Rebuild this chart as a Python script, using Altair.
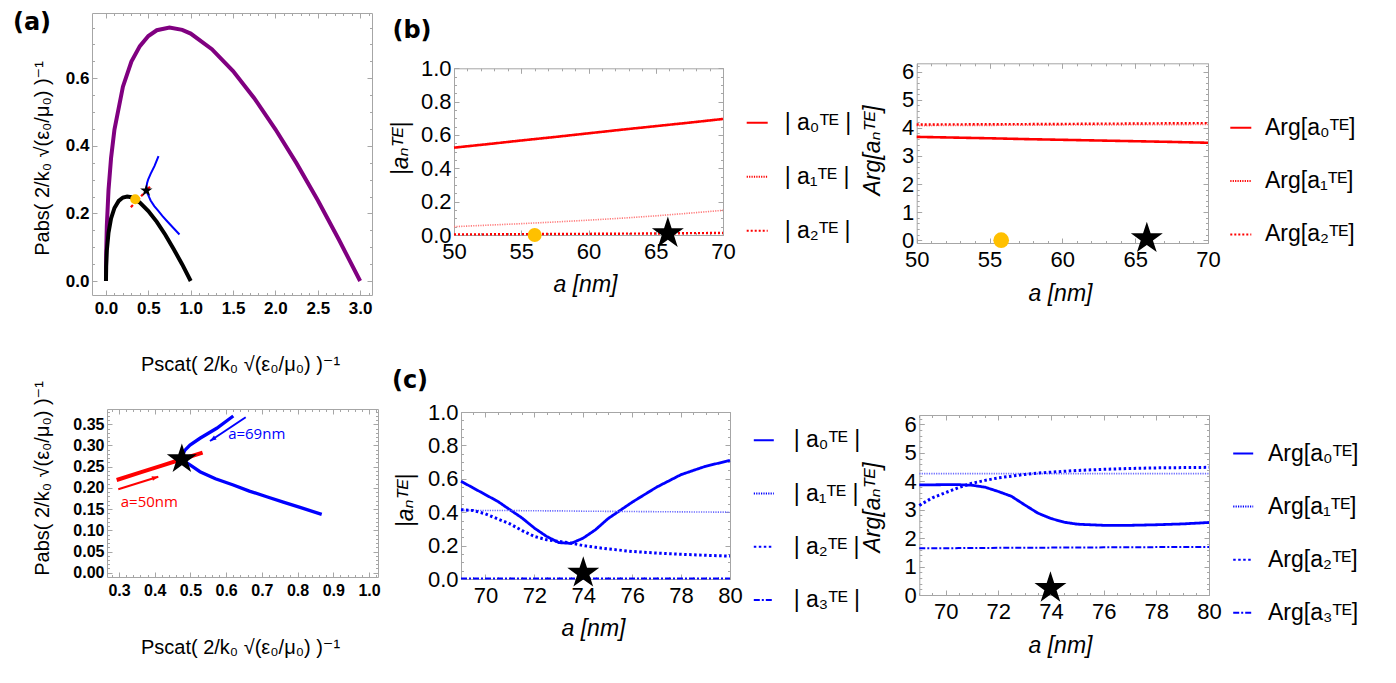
import altair as alt
import pandas as pd

W, H = 1380, 667
FRAME = "#a6a6a6"
SANS = "Liberation Sans, DejaVu Sans, sans-serif"
STAR = ("M0,-1L0.2245,-0.309L0.951,-0.309L0.363,0.118L0.588,0.809L0,0.382"
        "L-0.588,0.809L-0.363,0.118L-0.951,-0.309L-0.2245,-0.309Z")
HEAD = "M0,0L-2,-0.75L-2,0.75Z"

# ---------------- panel (a): P_abs vs P_scat ----------------
black_ps = [0.0, 0.002, 0.01, 0.03, 0.06, 0.1, 0.15, 0.2, 0.25, 0.3, 0.4, 0.5, 0.6, 0.7, 0.8, 0.9, 1.0]
black_pa = [0.0, 0.043, 0.09, 0.143, 0.185, 0.216, 0.237, 0.247, 0.25, 0.248, 0.232, 0.207, 0.175, 0.137, 0.094, 0.049, 0.0]
purple_ps = [0.0, 0.002, 0.01, 0.03, 0.06, 0.1, 0.2, 0.3, 0.4, 0.5, 0.6, 0.75, 0.9, 1.0, 1.25, 1.5, 1.75, 2.0, 2.25, 2.5, 2.75, 3.0]
purple_pa = [0.0, 0.076, 0.163, 0.27, 0.364, 0.448, 0.575, 0.649, 0.695, 0.725, 0.742, 0.75, 0.743, 0.732, 0.686, 0.621, 0.541, 0.449, 0.348, 0.239, 0.122, 0.0]
blue_ps = [0.62, 0.5736, 0.5268, 0.4988, 0.4848, 0.479, 0.478, 0.484, 0.4988, 0.5268, 0.57, 0.62, 0.665, 0.7136, 0.76, 0.8069, 0.8676]
blue_pa = [0.3696, 0.3406, 0.317, 0.301, 0.289, 0.279, 0.27, 0.262, 0.254, 0.2382, 0.2215, 0.2068, 0.1925, 0.179, 0.1665, 0.154, 0.1377]
red_ps = [0.2935, 0.36, 0.42, 0.4756, 0.534]
red_pa = [0.2186, 0.2364, 0.2525, 0.2675, 0.283]
yellow_ps = [0.345]
yellow_pa = [0.242]
star_ps = [0.476]
star_pa = [0.2675]
arrow_red_from = [0.298, 0.1967]
arrow_red_to = [0.41, 0.2264]
arrow_blue_from = [0.6548, 0.3665]
arrow_blue_to = [0.5548, 0.3106]
note_text = ["a=50nm", "a=69nm"]
note_ps = [0.385, 0.6856]
note_pa = [0.1675, 0.3264]

# ---------------- panel (b): a = 50..70 nm ----------------
b_a = [50, 52.5, 55, 57.5, 60, 62.5, 65, 67.5, 70]
b_abs0 = [0.524, 0.545, 0.567, 0.588, 0.61, 0.632, 0.653, 0.674, 0.696]
b_abs1 = [0.05, 0.059, 0.068, 0.078, 0.089, 0.101, 0.115, 0.131, 0.148]
b_abs2 = [0.004, 0.004, 0.005, 0.006, 0.007, 0.008, 0.009, 0.011, 0.012]
b_arg0 = [3.68, 3.655, 3.63, 3.6, 3.575, 3.55, 3.525, 3.5, 3.47]
b_arg1 = [4.08, 4.085, 4.09, 4.095, 4.1, 4.105, 4.11, 4.115, 4.12]
b_arg2 = [4.12, 4.125, 4.13, 4.135, 4.14, 4.15, 4.155, 4.165, 4.17]
b_yellow_a = [56.0]
b_yellow_v = [0.0]
b_star_a = [65.9]
b_star_v = [0.01]
b2_yellow_a = [55.8]
b2_yellow_v = [0.0]
b2_star_a = [65.8]
b2_star_v = [0.06]

# ---------------- panel (c): a = 69..80 nm ----------------
c_a = [69, 69.5, 70, 70.5, 71, 71.5, 72, 72.5, 73, 73.5, 74, 74.5, 75, 76, 77, 78, 79, 80]
c_abs0 = [0.585, 0.545, 0.505, 0.465, 0.415, 0.365, 0.305, 0.255, 0.218, 0.213, 0.245, 0.295, 0.36, 0.46, 0.55, 0.625, 0.675, 0.71]
c_abs1 = [0.411, 0.411, 0.41, 0.41, 0.41, 0.409, 0.409, 0.408, 0.408, 0.407, 0.406, 0.406, 0.405, 0.404, 0.403, 0.402, 0.401, 0.4]
c_abs2 = [0.415, 0.41, 0.39, 0.36, 0.33, 0.29, 0.255, 0.235, 0.225, 0.215, 0.2, 0.19, 0.18, 0.165, 0.155, 0.148, 0.142, 0.137]
c_abs3 = [0.003] * 18
c_arg0 = [3.87, 3.875, 3.88, 3.88, 3.86, 3.79, 3.64, 3.47, 3.17, 2.88, 2.69, 2.56, 2.49, 2.45, 2.45, 2.47, 2.5, 2.55]
c_arg1 = [4.27] * 18
c_arg2 = [3.15, 3.42, 3.6, 3.78, 3.93, 4.03, 4.12, 4.18, 4.24, 4.29, 4.32, 4.35, 4.38, 4.42, 4.45, 4.47, 4.48, 4.49]
c_arg3 = [1.64, 1.643, 1.646, 1.649, 1.652, 1.655, 1.658, 1.66, 1.662, 1.664, 1.666, 1.668, 1.67, 1.675, 1.68, 1.684, 1.687, 1.69]
c_star_a = [74.0]
c_star_v = [0.036]
c2_star_a = [73.98]
c2_star_v = [0.24]

lab_abs = ["| a\u2080\u1d40\u1d31 |", "| a\u2081\u1d40\u1d31 |", "| a\u2082\u1d40\u1d31 |", "| a\u2083\u1d40\u1d31 |"]
lab_arg = ["Arg[a\u2080\u1d40\u1d31]", "Arg[a\u2081\u1d40\u1d31]", "Arg[a\u2082\u1d40\u1d31]", "Arg[a\u2083\u1d40\u1d31]"]

TITLE_SCAT = "Pscat( 2/k\u2080 \u221a(\u03b5\u2080/\u03bc\u2080) )\u207b\u00b9"
TITLE_ABS = "Pabs( 2/k\u2080 \u221a(\u03b5\u2080/\u03bc\u2080) )\u207b\u00b9"


def rng(a, b, s):
    n = int(round((b - a) / s))
    return [round(a + i * s, 4) for i in range(n + 1)]


# panel geometry (pixel ranges inside the 1380x667 drawing)
PN = {
    "A1": dict(xd=[-0.165, 3.14], xr=[84, 364], yd=[-0.0414, 0.793], yr=[287, 5],
               xv=rng(0, 3, 0.5), xf=".1f", yv=rng(0, 0.6, 0.2), yf=".1f",
               xm=rng(0, 3.1, 0.1), ym=rng(0, 0.75, 0.05),
               fs=17, fw="bold", xp=5, yp=3,
               xt=TITLE_SCAT, xtx=232, xty=356, yt=TITLE_ABS, ytx=34, yty=150, tfs=20, tst="normal"),
    "A2": dict(xd=[0.2664, 1.0252], xr=[99, 370], yd=[-0.0101, 0.386], yr=[569, 401],
               xv=rng(0.3, 1.0, 0.1), xf=".1f", yv=rng(0, 0.35, 0.05), yf=".2f",
               xm=rng(0.28, 1.02, 0.02), ym=rng(0, 0.38, 0.01),
               fs=16, fw="bold", xp=5, yp=3,
               xt=TITLE_SCAT, xtx=232, xty=639, yt=TITLE_ABS, ytx=34, yty=470, tfs=20, tst="normal"),
    "B1": dict(xd=[50, 70], xr=[446, 715], yd=[0, 1], yr=[227, 60.3],
               xv=rng(50, 70, 5), xf="d", yv=rng(0, 1, 0.2), yf=".1f",
               xm=rng(50, 70, 1), ym=rng(0, 1, 0.05),
               fs=22, fw="normal", xp=6, yp=3,
               xt="a [nm]", xtx=577, xty=276, yt="|a\u2099\u1d40\u1d31|", ytx=392, yty=140, tfs=23, tst="italic"),
    "B2": dict(xd=[50, 70], xr=[908.7, 1200], yd=[-0.1, 6.3], yr=[235, 55.3],
               xv=rng(50, 70, 5), xf="d", yv=rng(0, 6, 1), yf="d",
               xm=rng(50, 70, 1), ym=rng(0, 6.2, 0.2),
               fs=22, fw="normal", xp=6, yp=3,
               xt="a [nm]", xtx=1052, xty=285, yt="Arg[a\u2099\u1d40\u1d31]", ytx=864, yty=142, tfs=23, tst="italic"),
    "C1": dict(xd=[69, 80], xr=[453, 722], yd=[0, 1], yr=[571, 404],
               xv=rng(70, 80, 2), xf="d", yv=rng(0, 1, 0.2), yf=".1f",
               xm=rng(69, 80, 0.5), ym=rng(0, 1, 0.05),
               fs=22, fw="normal", xp=6, yp=3,
               xt="a [nm]", xtx=585, xty=620, yt="|a\u2099\u1d40\u1d31|", ytx=397, yty=492, tfs=23, tst="italic"),
    "C2": dict(xd=[69, 80], xr=[911.3, 1201], yd=[0, 6.33], yr=[587, 407],
               xv=rng(70, 80, 2), xf="d", yv=rng(0, 6, 1), yf="d",
               xm=rng(69, 80, 0.5), ym=rng(0, 6.2, 0.2),
               fs=22, fw="normal", xp=6, yp=3,
               xt="a [nm]", xtx=1052, xty=637, yt="Arg[a\u2099\u1d40\u1d31]", ytx=864, yty=499, tfs=23, tst="italic"),
}


def off(orient, pos):
    return {"bottom": pos - H, "top": -pos, "left": -pos, "right": pos - W}[orient]


def axis(orient, pos, **kw):
    base = dict(orient=orient, offset=off(orient, pos), grid=False, domainColor=FRAME,
                tickColor=FRAME, labelColor="black", labelFlush=False, labelOverlap=False)
    base.update(kw)
    return alt.Axis(**base)


def sc(p, k):
    d = PN[p]
    return alt.Scale(domain=d[k + "d"], range=d[k + "r"], nice=False, zero=False)


def X(p, ax=None, field="x:Q"):
    return alt.X(field, scale=sc(p, "x"), axis=ax)


def Y(p, ax=None, field="y:Q"):
    return alt.Y(field, scale=sc(p, "y"), axis=ax)


def main_axes(p):
    d = PN[p]
    xl, xr_ = d["xr"]
    yb, yt = d["yr"]
    ax = axis("bottom", yb, values=d["xv"], format=d["xf"], ticks=False, labelFont=SANS,
              labelFontSize=d["fs"], labelFontWeight=d["fw"], labelPadding=d["xp"],
              title=d["xt"], titleX=d["xtx"], titleY=d["xty"] - yb, titleFont=SANS,
              titleFontSize=d["tfs"], titleFontStyle=d["tst"], titleFontWeight="normal",
              titleBaseline="middle", titleAlign="center", titleColor="black", titleAngle=0)
    ay = axis("left", xl, values=d["yv"], format=d["yf"], ticks=False, labelFont=SANS,
              labelFontSize=d["fs"], labelFontWeight=d["fw"], labelPadding=d["yp"],
              title=d["yt"], titleX=d["ytx"] - xl, titleY=d["yty"], titleFont=SANS,
              titleFontSize=d["tfs"], titleFontStyle=d["tst"], titleFontWeight="normal",
              titleBaseline="middle", titleAlign="center", titleColor="black", titleAngle=270)
    return ax, ay


def frame_layers(p, df):
    d = PN[p]
    xl, xr_ = d["xr"]
    yb, yt = d["yr"]
    out = []
    for vals_x, vals_y, size in [(d["xv"], d["yv"], 5), (d["xm"], d["ym"], 2.5)]:
        # inward ticks on bottom and left edges
        out.append(alt.Chart(df).mark_point(opacity=0).encode(
            x=X(p, axis("top", yb, values=vals_x, labels=False, domain=False, tickSize=size, title=None)),
            y=Y(p, axis("right", xl, values=vals_y, labels=False, domain=False, tickSize=size, title=None))))
        # inward ticks on top and right edges (+ the frame lines once)
        out.append(alt.Chart(df).mark_point(opacity=0).encode(
            x=X(p, axis("bottom", yt, values=vals_x, labels=False, domain=(size == 5), tickSize=size, title=None)),
            y=Y(p, axis("left", xr_, values=vals_y, labels=False, domain=(size == 5), tickSize=size, title=None))))
    return out


def legend(x, y, slen, lo, rp, color):
    return alt.Legend(orient="none", legendX=x, legendY=y, title=None, labelFont=SANS,
                      labelFontSize=23, labelColor="black", symbolType="stroke",
                      symbolSize=slen * slen, labelOffset=lo, rowPadding=rp, padding=0,
                      symbolStrokeWidth=2, symbolStrokeColor=color, labelLimit=300)


layers = []

# ---------------- (a) top ----------------
ax, ay = main_axes("A1")
df_purple = pd.DataFrame({"x": purple_ps, "y": purple_pa, "i": range(len(purple_ps))})
df_black = pd.DataFrame({"x": black_ps, "y": black_pa, "i": range(len(black_ps))})
df_blue = pd.DataFrame({"x": blue_ps, "y": blue_pa, "i": range(len(blue_ps))})
df_red = pd.DataFrame({"x": red_ps, "y": red_pa, "i": range(len(red_ps))})
df_yel = pd.DataFrame({"x": yellow_ps, "y": yellow_pa})
df_star = pd.DataFrame({"x": star_ps, "y": star_pa})

layers.append(alt.Chart(df_purple).mark_line(color="#800080", strokeWidth=4).encode(
    x=X("A1", ax), y=Y("A1", ay), order="i:Q"))
layers.append(alt.Chart(df_black).mark_line(color="black", strokeWidth=4).encode(
    x=X("A1"), y=Y("A1"), order="i:Q"))
layers.append(alt.Chart(df_blue).mark_line(color="#0000ff", strokeWidth=2).encode(
    x=X("A1"), y=Y("A1"), order="i:Q"))
layers.append(alt.Chart(df_red).mark_line(color="#ff0000", strokeWidth=2.2, strokeDash=[3, 2]).encode(
    x=X("A1"), y=Y("A1"), order="i:Q"))
layers.append(alt.Chart(df_yel).mark_point(shape="circle", filled=True, size=100, color="#FFC000", opacity=1).encode(
    x=X("A1"), y=Y("A1")))
layers.append(alt.Chart(df_star).mark_point(shape=STAR, filled=True, size=170, color="black", opacity=1).encode(
    x=X("A1"), y=Y("A1")))
layers += frame_layers("A1", df_star)

# ---------------- (a) bottom ----------------
ax, ay = main_axes("A2")
layers.append(alt.Chart(df_blue).mark_line(color="#0000ff", strokeWidth=3.3).encode(
    x=X("A2", ax), y=Y("A2", ay), order="i:Q"))
layers.append(alt.Chart(df_red).mark_line(color="#ff0000", strokeWidth=4).encode(
    x=X("A2"), y=Y("A2"), order="i:Q"))
for frm, to, col, ang in [(arrow_red_from, arrow_red_to, "#ff0000", 342.5),
                          (arrow_blue_from, arrow_blue_to, "#0000ff", 146.4)]:
    dfa = pd.DataFrame({"x": [frm[0]], "y": [frm[1]], "x2": [to[0]], "y2": [to[1]]})
    layers.append(alt.Chart(dfa).mark_rule(color=col, strokeWidth=2).encode(
        x=X("A2"), y=Y("A2"), x2="x2:Q", y2="y2:Q"))
    dfh = pd.DataFrame({"x": [to[0]], "y": [to[1]]})
    layers.append(alt.Chart(dfh).mark_point(shape=HEAD, filled=True, size=40, angle=ang, color=col, opacity=1).encode(
        x=X("A2"), y=Y("A2")))
df_note = pd.DataFrame({"x": note_ps, "y": note_pa, "t": note_text, "c": ["#ff0000", "#0000ff"]})
layers.append(alt.Chart(df_note).mark_text(font="Open Sans", fontSize=15).encode(
    x=X("A2"), y=Y("A2"), text="t:N", color=alt.Color("c:N", scale=None, legend=None)))
layers.append(alt.Chart(df_star).mark_point(shape=STAR, filled=True, size=1000, color="black", opacity=1).encode(
    x=X("A2"), y=Y("A2")))
layers += frame_layers("A2", df_star)


# ---------------- (b) and (c) ----------------
def coeff_panel(p, xs, series, labels, cols, widths, dashes, leg):
    rows = []
    for k, ys in enumerate(series):
        for xv, yv in zip(xs, ys):
            rows.append({"x": xv, "y": yv, "s": labels[k], "c": cols[k], "w": widths[k]})
    df = pd.DataFrame(rows)
    ax, ay = main_axes(p)
    return alt.Chart(df).mark_line().encode(
        x=X(p, ax), y=Y(p, ay),
        strokeDash=alt.StrokeDash("s:N", scale=alt.Scale(domain=labels, range=dashes), legend=leg),
        color=alt.Color("c:N", scale=None, legend=None),
        strokeWidth=alt.StrokeWidth("w:Q", scale=None, legend=None))


RED_C = ["#ff0000", "#ff7a7a", "#ff0000"]
RED_W = [2.6, 1.6, 2.4]
RED_D = [[1, 0], [1.2, 1.2], [2, 2]]
BLUE_C = ["#0000ff", "#6b6bff", "#0000ff", "#0000ff"]
BLUE_W = [2.8, 1.6, 3.0, 2.0]
BLUE_D = [[1, 0], [1.2, 1.2], [2.5, 2.5], [6, 2, 2, 2]]

layers.append(coeff_panel("B1", b_a, [b_abs0, b_abs1, b_abs2], lab_abs[:3], RED_C, RED_W, RED_D,
                          legend(737.7, 103.3, 21, 16, 30, "#ff0000")))
df_by = pd.DataFrame({"x": b_yellow_a, "y": b_yellow_v})
df_bs = pd.DataFrame({"x": b_star_a, "y": b_star_v})
layers.append(alt.Chart(df_by).mark_point(shape="circle", filled=True, size=196, color="#FFC000", opacity=1).encode(
    x=X("B1"), y=Y("B1")))
layers.append(alt.Chart(df_bs).mark_point(shape=STAR, filled=True, size=1130, color="black", opacity=1).encode(
    x=X("B1"), y=Y("B1")))
layers += frame_layers("B1", df_bs)

layers.append(coeff_panel("B2", b_a, [b_arg0, b_arg1, b_arg2], lab_arg[:3], RED_C, RED_W, RED_D,
                          legend(1221.3, 108.3, 21, 12.7, 29.3, "#ff0000")))
df_b2y = pd.DataFrame({"x": b2_yellow_a, "y": b2_yellow_v})
df_b2s = pd.DataFrame({"x": b2_star_a, "y": b2_star_v})
layers.append(alt.Chart(df_b2y).mark_point(shape="circle", filled=True, size=246, color="#FFC000", opacity=1).encode(
    x=X("B2"), y=Y("B2")))
layers.append(alt.Chart(df_b2s).mark_point(shape=STAR, filled=True, size=1130, color="black", opacity=1).encode(
    x=X("B2"), y=Y("B2")))
layers += frame_layers("B2", df_b2s)

layers.append(coeff_panel("C1", c_a, [c_abs0, c_abs1, c_abs2, c_abs3], lab_abs, BLUE_C, BLUE_W, BLUE_D,
                          legend(744.3, 420.7, 20, 18.4, 29.3, "#0000ff")))
df_cs = pd.DataFrame({"x": c_star_a, "y": c_star_v})
layers.append(alt.Chart(df_cs).mark_point(shape=STAR, filled=True, size=1130, color="black", opacity=1).encode(
    x=X("C1"), y=Y("C1")))
layers += frame_layers("C1", df_cs)

layers.append(coeff_panel("C2", c_a, [c_arg0, c_arg1, c_arg2, c_arg3], lab_arg, BLUE_C, BLUE_W, BLUE_D,
                          legend(1223.7, 434, 20, 13.3, 29.1, "#0000ff")))
df_c2s = pd.DataFrame({"x": c2_star_a, "y": c2_star_v})
layers.append(alt.Chart(df_c2s).mark_point(shape=STAR, filled=True, size=1130, color="black", opacity=1).encode(
    x=X("C2"), y=Y("C2")))
layers += frame_layers("C2", df_c2s)

# ---------------- panel labels ----------------
for txt, px, py in [("(a)", 24, 15), ("(b)", 404, 23), ("(c)", 402, 373)]:
    layers.append(alt.Chart(pd.DataFrame({"t": [txt]})).mark_text(
        font="DejaVu Sans", fontWeight="bold", fontSize=24, align="center", baseline="middle", color="black"
    ).encode(x=alt.value(px), y=alt.value(py), text="t:N"))

chart = alt.layer(*layers).properties(
    width=W, height=H, padding=0, background="white", autosize=alt.AutoSizeParams(type="none")
).resolve_scale(
    x="independent", y="independent", strokeDash="independent", color="independent", strokeWidth="independent"
).resolve_axis(x="independent", y="independent").resolve_legend(strokeDash="independent").configure_view(
    stroke=None, strokeWidth=0
)

chart.save("out.html", embed_options={"renderer": "svg", "actions": False})
